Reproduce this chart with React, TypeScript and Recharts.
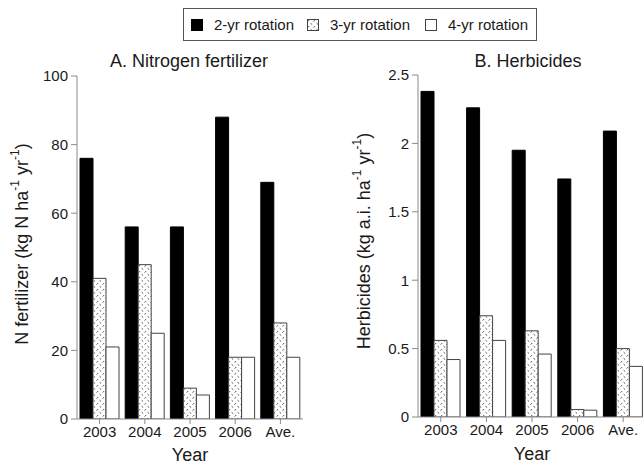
import React from 'react';
import { BarChart, Bar, XAxis, YAxis } from 'recharts';

const categories = ['2003', '2004', '2005', '2006', 'Ave.'];
const seriesNames = ['2-yr rotation', '3-yr rotation', '4-yr rotation'];

const nitrogen2yr = [76, 56, 56, 88, 69];
const nitrogen3yr = [41, 45, 9, 18, 28];
const nitrogen4yr = [21, 25, 7, 18, 18];

const herb2yr = [2.38, 2.26, 1.95, 1.74, 2.09];
const herb3yr = [0.56, 0.74, 0.63, 0.055, 0.5];
const herb4yr = [0.42, 0.56, 0.46, 0.05, 0.37];

const nTicks = [0, 20, 40, 60, 80, 100];
const hTicks = [0, 0.5, 1, 1.5, 2, 2.5];

const nData = categories.map((c, i) => ({ year: c, r2: nitrogen2yr[i], r3: nitrogen3yr[i], r4: nitrogen4yr[i] }));
const hData = categories.map((c, i) => ({ year: c, r2: herb2yr[i], r3: herb3yr[i], r4: herb4yr[i] }));

const FONT = '"Liberation Sans", Arial, Helvetica, sans-serif';
const AXIS = '#8a8a8a';
const TXT = '#1a1a1a';

const HatchDef = ({ id }: { id: string }) => (
  <pattern id={id} patternUnits="userSpaceOnUse" width="6" height="6">
    <rect x="0" y="0" width="6" height="6" fill="#fff" />
    <line x1="0.6" y1="2.6" x2="2.2" y2="1" stroke="#444" strokeWidth="0.9" />
    <line x1="3.6" y1="4.2" x2="5.2" y2="5.6" stroke="#444" strokeWidth="0.9" />
  </pattern>
);

function Panel({ data, ticks, domain, hatchId, margin, width }: any) {
  return (
    <BarChart width={width} height={466} data={data} margin={margin} barCategoryGap={3} barGap={0}>
      <defs>
        <HatchDef id={hatchId} />
      </defs>
      <XAxis
        dataKey="year"
        interval={0}
        height={30}
        stroke={AXIS}
        tickSize={5}
        tick={{ fontSize: 15, fill: TXT, fontFamily: FONT }}
      />
      <XAxis xAxisId="top" orientation="top" dataKey="year" height={0} tick={false} tickLine={false} stroke={AXIS} />
      <YAxis
        type="number"
        domain={domain}
        ticks={ticks}
        width={60}
        stroke={AXIS}
        tickSize={6}
        tickMargin={3}
        allowDataOverflow
        tick={{ fontSize: 15, fill: TXT, fontFamily: FONT }}
      />
      <YAxis yAxisId="right" orientation="right" domain={domain} width={0} tick={false} tickLine={false} stroke={AXIS} />
      <Bar dataKey="r2" name={seriesNames[0]} fill="#000" stroke="#000" strokeWidth={1} isAnimationActive={false} />
      <Bar dataKey="r3" name={seriesNames[1]} fill={`url(#${hatchId})`} stroke="#444" strokeWidth={1} isAnimationActive={false} />
      <Bar dataKey="r4" name={seriesNames[2]} fill="#fff" stroke="#444" strokeWidth={1} isAnimationActive={false} />
    </BarChart>
  );
}

function LegendIcon({ kind }: { kind: number }) {
  return (
    <svg width="12" height="12" style={{ display: 'block' }}>
      <defs>
        <HatchDef id="legendHatch" />
      </defs>
      <rect
        x="0.5"
        y="0.5"
        width="11"
        height="11"
        fill={kind === 0 ? '#000' : kind === 1 ? 'url(#legendHatch)' : '#fff'}
        stroke={kind === 0 ? '#000' : '#444'}
      />
    </svg>
  );
}

export default function App() {
  const iconX = [191, 307, 425];
  const textX = [214, 330, 448];
  return (
    <div
      style={{
        position: 'absolute',
        left: 0,
        top: 0,
        width: 643,
        height: 466,
        overflow: 'hidden',
        background: '#fff',
        fontFamily: FONT,
      }}
    >
      <div style={{ position: 'absolute', left: 0, top: 0 }}>
        <Panel data={nData} ticks={nTicks} domain={[0, 100]} hatchId="hatchA" width={320}
          margin={{ top: 76, right: 17, bottom: 17, left: 17 }} />
      </div>
      <div style={{ position: 'absolute', left: 320, top: 0 }}>
        <Panel data={hData} ticks={hTicks} domain={[0, 2.5]} hatchId="hatchB" width={340}
          margin={{ top: 75, right: 14, bottom: 19, left: 38 }} />
      </div>

      {/* legend */}
      <div
        style={{
          position: 'absolute',
          left: 183,
          top: 8,
          width: 354,
          height: 33,
          border: '1px solid #555',
          boxSizing: 'border-box',
        }}
      />
      {seriesNames.map((n, i) => (
        <React.Fragment key={n}>
          <div style={{ position: 'absolute', left: iconX[i], top: 19 }}>
            <LegendIcon kind={i} />
          </div>
          <div style={{ position: 'absolute', left: textX[i], top: 16, fontSize: 15, lineHeight: '18px', color: TXT, whiteSpace: 'nowrap' }}>
            {n}
          </div>
        </React.Fragment>
      ))}

      {/* titles and axis labels */}
      <svg width={643} height={466} style={{ position: 'absolute', left: 0, top: 0, pointerEvents: 'none' }}>
        <g fontFamily={FONT} fill={TXT}>
          <text x={189} y={67} fontSize={18} textAnchor="middle">A. Nitrogen fertilizer</text>
          <text x={528} y={67} fontSize={18} textAnchor="middle">B. Herbicides</text>
          <text x={190} y={461} fontSize={18} textAnchor="middle">Year</text>
          <text x={532} y={460} fontSize={18} textAnchor="middle">Year</text>
          <text transform="rotate(-90 22 244)" x={22} y={244} fontSize={18} textAnchor="middle" dominantBaseline="central">
            N fertilizer (kg N ha<tspan dy={-7} fontSize={12}>-1</tspan><tspan dy={7}> yr</tspan><tspan dy={-7} fontSize={12}>-1</tspan><tspan dy={7}>)</tspan>
          </text>
          <text transform="rotate(-90 364 241)" x={364} y={241} fontSize={18} textAnchor="middle" dominantBaseline="central">
            Herbicides (kg a.i. ha<tspan dy={-7} fontSize={12}>-1</tspan><tspan dy={7}> yr</tspan><tspan dy={-7} fontSize={12}>-1</tspan><tspan dy={7}>)</tspan>
          </text>
        </g>
      </svg>
    </div>
  );
}
